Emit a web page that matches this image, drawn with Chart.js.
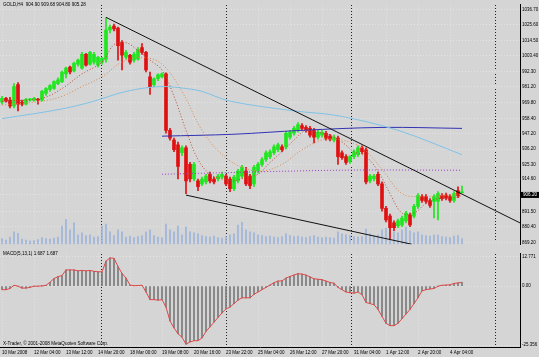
<!DOCTYPE html>
<html><head><meta charset="utf-8">
<script src="https://cdn.jsdelivr.net/npm/chart.js@4.4.1/dist/chart.umd.min.js"></script>
<style>
html,body{margin:0;padding:0;background:#d5d5d5;}
#wrap{position:relative;width:539px;height:357px;overflow:hidden;background:#d5d5d5}
#a{position:absolute;left:0;top:0;}
#b{position:absolute;left:0;top:249px;}
</style></head><body>
<div id="wrap">
<canvas id="a" width="539" height="249"></canvas>
<canvas id="b" width="539" height="108"></canvas>
</div>
<script>
// ---------- DATA ----------
const symbolTitle = 'GOLD,H4  904.90 909.68 904.80 905.28';
const macdTitle = 'MACD(5,13,1) 1.687 1.687';
const copyrightText = 'X-Trader, © 2001-2008 MetaQuotes Software Corp.';
const currentPrice = 906.20;
const currentPriceLabel = '906.20';

const timeTickBars = [0, 8, 16, 24, 32, 40, 48, 56, 64, 72, 80, 88, 96, 104, 112];
const timeTickLabels = ['10 Mar 2008', '12 Mar 04:00', '13 Mar 12:00', '14 Mar 20:00', '18 Mar 00:00',
  '19 Mar 08:00', '20 Mar 16:00', '23 Mar 22:00', '25 Mar 04:00', '26 Mar 12:00', '27 Mar 20:00',
  '31 Mar 04:00', '1 Apr 12:00', '2 Apr 20:00', '4 Apr 04:00'];
const weekSeparatorBars = [24.75, 56, 87.25, 123.25];

const priceTickValues = [1036.70, 1025.60, 1014.50, 1003.40, 992.30, 981.20, 969.80, 958.40,
  947.20, 936.20, 925.30, 914.60, 903.30, 891.50, 880.40, 869.20];
const priceTickLabels = ['1036.70', '1025.60', '1014.50', '1003.40', '992.30', '981.20', '969.80', '958.40',
  '947.20', '936.20', '925.30', '914.60', '903.30', '891.50', '880.40', '869.20'];

const opens = [970.1, 972.9, 971.5, 967.3, 982.7, 970.1, 968.7, 971.5, 971.5, 972.2,
  971.5, 976.4, 979.2, 979.9, 983.4, 984.8, 990.4, 995.3, 992.5, 997.4,
  994.6, 1004.5, 997.4, 998.9, 996.7, 998.9, 1001.0, 1022.0, 1024.8, 1023.4,
  1012.9, 1002.4, 1003.8, 1000.3, 1001.0, 1009.4, 1005.9, 988.3, 982.7, 986.9,
  988.3, 990.4, 949.8, 942.8, 939.3, 933.7, 937.2, 925.3, 914.8, 913.4,
  911.3, 912.7, 918.2, 914.8, 914.8, 916.1, 916.8, 914.8, 907.8, 913.4,
  916.8, 920.4, 916.8, 911.3, 920.4, 925.3, 928.8, 930.9, 933.7, 935.8,
  937.9, 937.9, 944.9, 947.7, 949.8, 953.3, 951.9, 951.2, 949.8, 944.9,
  946.3, 947.7, 945.6, 942.8, 944.2, 933.7, 930.9, 927.4, 930.9, 932.3,
  937.2, 935.8, 913.4, 914.8, 918.2, 911.3, 893.7, 888.1, 883.2, 881.1,
  881.8, 884.6, 888.8, 888.1, 895.1, 902.1, 902.1, 899.3, 898.6, 898.6,
  902.8, 903.2, 902.1, 899.3, 906.4, 904.90];
const highs = [974.3, 973.6, 973.6, 983.4, 984.1, 971.5, 972.9, 972.9, 973.6, 972.9,
  978.5, 980.6, 982.7, 985.5, 987.6, 992.5, 995.3, 996.0, 998.9, 1001.0,
  1005.9, 1005.2, 1006.6, 1005.9, 1003.1, 1002.4, 1031.1, 1025.5, 1026.2, 1024.1,
  1014.3, 1007.3, 1004.5, 1005.9, 1009.4, 1012.2, 1006.6, 991.8, 987.6, 990.4,
  991.1, 991.1, 951.2, 944.2, 941.4, 938.6, 938.6, 926.7, 926.7, 914.8,
  916.1, 918.2, 919.7, 916.1, 918.2, 919.7, 918.2, 916.1, 917.5, 921.8,
  924.6, 923.2, 918.2, 924.6, 926.7, 930.2, 935.1, 935.8, 939.3, 940.7,
  939.3, 949.1, 949.8, 952.6, 955.4, 954.7, 953.3, 952.6, 951.2, 949.8,
  949.8, 949.1, 947.0, 946.3, 945.6, 935.1, 932.3, 931.6, 935.8, 938.6,
  938.6, 937.2, 918.2, 918.2, 919.7, 912.7, 895.1, 889.5, 884.6, 886.0,
  888.1, 891.6, 890.2, 896.5, 904.3, 903.6, 903.6, 900.7, 903.6, 905.7,
  904.3, 904.6, 903.6, 905.7, 909.2, 909.68];
const lows = [968.7, 970.1, 965.9, 965.9, 963.8, 967.3, 968.0, 970.8, 970.8, 968.7,
  970.8, 975.0, 977.8, 979.2, 982.7, 984.1, 987.6, 990.4, 991.8, 996.0,
  993.9, 996.0, 996.7, 997.4, 995.3, 997.4, 998.9, 1019.9, 1021.3, 1000.3,
  993.2, 1001.0, 997.4, 998.9, 1000.3, 1004.5, 991.8, 975.7, 981.3, 985.5,
  987.6, 947.7, 942.8, 934.4, 914.8, 931.6, 904.3, 912.7, 913.4, 906.4,
  909.9, 911.3, 912.0, 911.3, 913.4, 914.8, 909.9, 905.7, 906.4, 912.0,
  915.4, 909.9, 907.8, 909.2, 918.9, 923.9, 927.4, 929.5, 932.3, 934.4,
  934.4, 936.5, 943.5, 946.3, 948.4, 949.8, 948.4, 944.9, 940.7, 943.5,
  944.9, 942.8, 942.1, 941.4, 925.3, 928.8, 925.3, 926.0, 929.5, 930.9,
  933.0, 911.3, 912.0, 913.4, 909.9, 891.6, 883.9, 871.3, 877.6, 879.7,
  880.4, 883.2, 880.4, 886.7, 893.7, 897.9, 897.2, 894.4, 886.7, 885.3,
  899.3, 899.8, 897.9, 897.9, 901.4, 904.80];
const closes = [972.9, 970.8, 967.3, 981.3, 968.7, 968.7, 972.2, 972.2, 972.9, 971.5,
  977.8, 979.9, 982.0, 984.8, 986.2, 991.8, 994.6, 991.8, 998.1, 1000.3,
  1004.5, 996.7, 1005.9, 1004.5, 1002.4, 1001.7, 1022.0, 1024.1, 1022.7, 1010.8,
  1003.8, 1005.9, 998.9, 1004.5, 1008.0, 1005.9, 993.2, 981.3, 986.9, 989.7,
  990.4, 949.8, 944.2, 935.8, 923.9, 937.2, 913.4, 914.8, 925.3, 909.2,
  914.8, 916.8, 913.4, 912.7, 916.8, 918.2, 911.3, 907.8, 916.1, 920.4,
  923.2, 911.3, 909.9, 923.2, 925.3, 928.8, 933.7, 934.4, 937.9, 939.3,
  935.8, 947.7, 948.4, 951.2, 954.0, 951.2, 949.8, 946.3, 944.9, 948.4,
  948.4, 944.2, 943.5, 944.9, 930.9, 930.2, 926.7, 930.9, 934.4, 937.2,
  934.4, 912.7, 916.8, 916.8, 911.3, 893.7, 885.3, 879.7, 879.7, 884.6,
  886.7, 890.2, 881.8, 895.1, 902.8, 899.3, 898.6, 895.8, 902.1, 904.3,
  900.7, 901.0, 899.3, 904.3, 902.8, 905.28];
const volumes = [120, 90, 150, 260, 230, 110, 90, 70, 80, 100,
  140, 120, 110, 130, 150, 380, 520, 300, 450, 200,
  240, 180, 200, 150, 160, 380, 420, 260, 180, 300,
  260, 150, 170, 140, 160, 180, 260, 300, 180, 150,
  140, 420, 300, 260, 380, 200, 360, 260, 240, 220,
  180, 160, 150, 170, 140, 130, 160, 200, 220, 400,
  460, 300, 260, 240, 200, 180, 160, 170, 150, 140,
  160, 220, 180, 160, 170, 150, 140, 160, 180, 150,
  140, 150, 140, 130, 260, 220, 200, 180, 160, 150,
  160, 320, 220, 180, 200, 300, 340, 380, 260, 240,
  300, 360, 280, 240, 260, 200, 180, 170, 200, 190,
  160, 150, 140, 170, 180, 120];

const maFastBars = [0, 10, 15, 20, 25, 28, 31, 34, 37, 40, 43, 46, 49, 52, 55, 58, 61, 64, 67, 70,
  73, 76, 79, 82, 85, 88, 91, 94, 97, 100, 103, 106, 109, 112, 115];
const maFastValues = [970.8, 972.9, 979.9, 990.4, 998.9, 1011.5, 1012.9, 1007.3, 1000.3, 993.2,
  974.3, 949.8, 928.8, 918.2, 914.8, 913.4, 916.1, 918.2, 926.7, 934.4,
  942.8, 949.8, 948.4, 946.3, 941.4, 934.4, 930.9, 920.4, 904.3, 890.2,
  890.2, 897.2, 900.7, 900.7, 902.8];
const maSlowBars = [0, 10, 15, 20, 25, 30, 35, 40, 45, 50, 55, 60, 65, 70, 75, 80, 85, 90, 95, 100, 105, 110, 115];
const maSlowValues = [968.0, 970.8, 974.3, 981.3, 988.3, 998.9, 1002.4, 997.4, 977.8, 949.8,
  932.3, 923.2, 920.4, 925.3, 935.8, 942.8, 942.8, 937.2, 921.8, 904.3,
  902.1, 902.8, 903.6];
const maBlueBars = [0, 15, 23, 31, 39.5, 46, 50, 57, 73, 84, 99, 115];
const maBlueValues = [958.2, 965.2, 970.8, 977.8, 981.3, 979.9, 977.8, 970.8, 963.8, 960.3, 949.8, 932.3];
const maNavyBars = [40, 58, 75, 95, 115];
const maNavyValues = [945.6, 947.0, 949.8, 951.9, 951.2];
const maPurpleBars = [40, 84, 115];
const maPurpleValues = [918.2, 921.1, 921.1];

const upperTrendBars = [26, 129.5];
const upperTrendPrices = [1031.1, 883.2];
const lowerTrendBars = [46, 102.5];
const lowerTrendPrices = [903.2, 867.8];

const macdValues = [-1.5, -1.5, -1.0, 0.4, 0.0, -0.8, -0.8, -0.5, 0.0, 0.0,
  0.1, 0.4, 1.7, 3.3, 4.1, 4.6, 7.0, 7.0, 7.0, 6.6,
  6.8, 6.6, 6.8, 6.4, 6.2, 6.2, 10.8, 12.2, 12.0, 8.5,
  5.5, 3.5, 0.5, 0.2, 0.3, 0.4, -2.5, -5.8, -5.8, -6.0,
  -5.8, -9.0, -15.0, -18.0, -20.5, -22.0, -25.0, -24.0, -23.5, -23.5,
  -22.3, -19.5, -17.5, -15.5, -13.5, -11.5, -9.8, -9.0, -7.5, -6.0,
  -5.0, -5.0, -5.0, -3.5, -2.5, -1.5, -0.5, 0.5, 1.5, 2.2,
  2.3, 3.5, 4.2, 4.8, 5.4, 5.2, 4.8, 4.0, 3.2, 3.0,
  2.8, 2.2, 1.6, 1.3, -0.5, -1.5, -2.5, -2.8, -3.0, -2.5,
  -3.7, -7.0, -7.5, -8.0, -10.0, -13.0, -16.0, -17.0, -17.0, -16.0,
  -14.0, -12.0, -10.0, -7.5, -5.0, -2.0, -1.5, -1.2, -1.0, 0.0,
  0.4, 0.5, 0.6, 1.2, 1.4, 1.687];
const macdTickValues = [12.771, 0, -25.356];
const macdTickLabels = ['12.771', '0.00', '-25.356'];

// ---------- STYLE ----------
const UP = '#1fe61f', DOWN = '#e01010';
const FONT = {family: 'Liberation Sans', size: 4.5};
const GRID = '#e4e4e4';
const X_MIN = -0.5, X_MAX = 129.5;

function pts(xs, ys) { return xs.map((x, k) => ({x: x, y: ys[k]})); }
const candleColors = closes.map((c, i) => c >= opens[i] ? UP : DOWN);

const xAxisBase = (showLabels) => ({
  type: 'linear', min: X_MIN, max: X_MAX, offset: false, position: 'bottom',
  afterBuildTicks: s => { s.ticks = timeTickBars.map(v => ({value: v})); },
  ticks: showLabels ? {display: true, callback: (v, i) => timeTickLabels[i], align: 'start', maxRotation: 0,
      autoSkip: false, font: FONT, color: '#000', padding: 1} : {display: false},
  grid: {color: GRID, drawTicks: showLabels, tickLength: 2, offset: false},
  border: {display: showLabels, color: '#000', dash: [1, 2]},
  afterFit: s => { s.height = showLabels ? 10 : 0; }
});
const sepAxis = {
  type: 'linear', min: X_MIN, max: X_MAX, offset: false, position: 'top',
  afterBuildTicks: s => { s.ticks = weekSeparatorBars.map(v => ({value: v})); },
  ticks: {display: false},
  grid: {color: '#222', drawTicks: false, offset: false},
  border: {display: false, dash: [1, 2]},
  afterFit: s => { s.height = 0; }
};

const plugA = {
  id: 'txtA',
  afterDraw(chart) {
    const ctx = chart.ctx;
    ctx.save();
    ctx.font = '4.6px "Liberation Sans"';
    ctx.textBaseline = 'middle';
    ctx.fillStyle = '#000';
    ctx.fillText(symbolTitle, 3, 5);
    const y = chart.scales.y.getPixelForValue(currentPrice);
    ctx.fillRect(521, y + 1, 18, 6);
    ctx.fillStyle = '#fff';
    ctx.fillText(currentPriceLabel, 523, y + 4);
    ctx.restore();
  }
};
const plugB = {
  id: 'txtB',
  afterDraw(chart) {
    const ctx = chart.ctx;
    ctx.save();
    ctx.font = '4.6px "Liberation Sans"';
    ctx.textBaseline = 'middle';
    ctx.fillStyle = '#000';
    ctx.fillText(macdTitle, 3, 5);
    ctx.fillText(copyrightText, 3, 95);
    ctx.restore();
  }
};

new Chart(document.getElementById('a'), {
  type: 'bar',
  data: {datasets: [
    {type: 'line', data: pts(upperTrendBars, upperTrendPrices), borderColor: '#111', borderWidth: 1, pointRadius: 0, order: 0},
    {type: 'line', data: pts(lowerTrendBars, lowerTrendPrices), borderColor: '#111', borderWidth: 1, pointRadius: 0, order: 0},
    {type: 'line', data: pts(maFastBars, maFastValues), borderColor: '#b84a3a', borderWidth: 1, borderDash: [1, 2], pointRadius: 0, tension: 0.35, order: 1},
    {type: 'line', data: pts(maSlowBars, maSlowValues), borderColor: '#d98a50', borderWidth: 1, borderDash: [1, 2], pointRadius: 0, tension: 0.35, order: 1},
    {type: 'line', data: pts(maBlueBars, maBlueValues), borderColor: '#7fc3e6', borderWidth: 1, pointRadius: 0, tension: 0.35, order: 1},
    {type: 'line', data: pts(maNavyBars, maNavyValues), borderColor: '#3232b4', borderWidth: 1, pointRadius: 0, tension: 0.35, order: 1},
    {type: 'line', data: pts(maPurpleBars, maPurpleValues), borderColor: '#9a3cc0', borderWidth: 1, borderDash: [1, 2], pointRadius: 0, tension: 0.3, order: 1},
    {type: 'bar', data: opens.map((o, i) => ({x: i, y: [o, closes[i]]})), backgroundColor: candleColors, barThickness: 3, minBarLength: 1, grouped: false, order: 2},
    {type: 'bar', data: lows.map((l, i) => ({x: i, y: [l, highs[i]]})), backgroundColor: candleColors, barThickness: 1, grouped: false, order: 3},
    {type: 'bar', yAxisID: 'yV', data: volumes.map((v, i) => ({x: i, y: v})), backgroundColor: '#9db4da', barThickness: 1, grouped: false, order: 4}
  ]},
  options: {
    responsive: false, animation: false, events: [],
    layout: {padding: {top: 1, bottom: 2, left: 0, right: 0}},
    plugins: {legend: {display: false}, tooltip: {enabled: false}},
    scales: {
      x: xAxisBase(false),
      xs: sepAxis,
      y: {position: 'right', min: 867.8, max: 1040.2,
        afterBuildTicks: s => { s.ticks = priceTickValues.map(v => ({value: v})); },
        afterFit: s => { s.width = 19; },
        ticks: {callback: (v, i) => priceTickLabels[i], font: FONT, color: '#000', padding: 2, autoSkip: false},
        grid: {color: GRID, drawTicks: false},
        border: {display: true, color: '#000', width: 1, dash: [1, 2]}},
      yV: {display: false, min: 0, max: 5000}
    }
  },
  plugins: [plugA]
});

new Chart(document.getElementById('b'), {
  type: 'bar',
  data: {datasets: [
    {type: 'line', data: macdValues.map((v, i) => ({x: i, y: v})), borderColor: '#e04848', borderWidth: 1, pointRadius: 0, order: 0},
    {type: 'bar', data: macdValues.map((v, i) => ({x: i, y: v})), backgroundColor: '#7a7a7a', barThickness: 1, grouped: false, order: 1}
  ]},
  options: {
    responsive: false, animation: false, events: [],
    layout: {padding: {top: 1, bottom: 0, left: 0, right: 0}},
    plugins: {legend: {display: false}, tooltip: {enabled: false}},
    scales: {
      x: xAxisBase(true),
      xs: sepAxis,
      y: {position: 'right', min: -26.2, max: 14.0,
        afterBuildTicks: s => { s.ticks = macdTickValues.map(v => ({value: v})); },
        afterFit: s => { s.width = 19; },
        ticks: {callback: (v, i) => macdTickLabels[i], font: FONT, color: '#000', padding: 2, autoSkip: false},
        grid: {color: GRID, drawTicks: false},
        border: {display: true, color: '#000', width: 1, dash: [1, 2]}}
    }
  },
  plugins: [plugB]
});
</script>
</body></html>
